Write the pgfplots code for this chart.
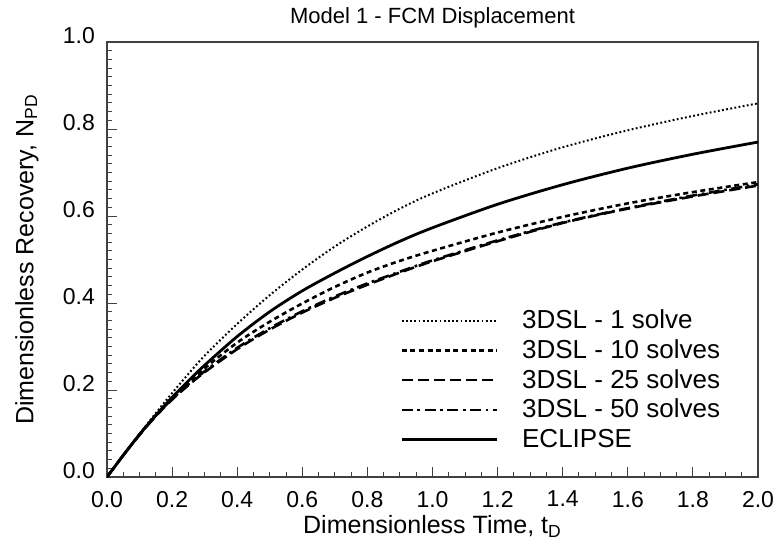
\documentclass[border=0pt]{standalone}
\usepackage{fontspec}
\setmainfont{Liberation Sans}
\usepackage{pgfplots}
\pgfplotsset{compat=1.18}
\begin{document}
\begin{tikzpicture}
\begin{axis}[
  name=ax,
  scale only axis,
  width=325.5pt, height=217.5pt,
  xmin=0, xmax=2, ymin=0, ymax=1,
  xtick={0,0.2,...,2.0}, ytick={0,0.2,...,1.0},
  minor x tick num=3, minor y tick num=9,
  tick align=inside,
  xtick pos=bottom, ytick pos=left,
  major tick length=5pt, minor tick length=2.5pt,
  axis line style={black!75, line width=0.6pt},
  every tick/.style={black!75, line width=0.5pt},
  tick label style={font=\fontsize{11.5}{13}\selectfont},
  /pgf/number format/assume math mode=true,
  /pgf/number format/fixed,
  /pgf/number format/fixed zerofill,
  /pgf/number format/precision=1,
  yticklabel style={xshift=-2.5pt, yshift=3pt},
  xticklabel style={yshift=-3.5pt},
  title={Model 1 - FCM Displacement},
  every axis title shift=0pt,
  title style={at={(axis description cs:0.5,1)}, anchor=base, yshift=9.5pt, font=\fontsize{11}{12}\selectfont},
  xlabel={Dimensionless Time, t\textsubscript{D}},
  ylabel={Dimensionless Recovery, N\textsubscript{PD}},
  xlabel style={at={(axis description cs:0.5,-0.13)}, anchor=base, font=\fontsize{12.5}{14}\selectfont},
  ylabel style={at={(axis description cs:-0.123,0.5)}, anchor=center, font=\fontsize{12.5}{14}\selectfont},
  legend cell align=left,
  legend style={draw=none, fill=none, inner sep=0pt,
    at={(axis cs:0.9,0.395)}, anchor=north west,
    font=\fontsize{13}{14}\selectfont, row sep=0pt,
    /tikz/every odd column/.append style={column sep=10pt}},
  legend image code/.code={\draw[#1] (0pt,0pt) -- (47.5pt,0pt);},
]
\addplot[black, line width=1pt, dash pattern=on 0.9pt off 1.2pt, smooth] coordinates {
(0,0) (0.05,0.05) (0.1,0.099) (0.15,0.147) (0.2,0.193) (0.25,0.237) (0.3,0.279)
(0.4,0.352) (0.5,0.418) (0.6,0.477) (0.7,0.53) (0.8,0.576) (0.9,0.617) (1.0,0.652)
(1.2,0.71) (1.4,0.758) (1.6,0.797) (1.8,0.83) (2.0,0.859)};
\addlegendentry{3DSL - 1 solve}
\addplot[black, line width=1.3pt, dash pattern=on 2.5pt off 1.8pt, smooth] coordinates {
(0,0) (0.05,0.05) (0.1,0.098) (0.15,0.142) (0.2,0.182) (0.25,0.217) (0.3,0.25)
(0.4,0.309) (0.5,0.357) (0.6,0.399) (0.7,0.437) (0.8,0.47) (0.9,0.497) (1.0,0.52)
(1.2,0.562) (1.4,0.598) (1.6,0.629) (1.8,0.655) (2.0,0.678)};
\addlegendentry{3DSL - 10 solves}
\addplot[black, line width=1.3pt, dash pattern=on 5.5pt off 2.5pt, smooth] coordinates {
(0,0) (0.05,0.05) (0.1,0.097) (0.15,0.14) (0.2,0.178) (0.25,0.211) (0.3,0.241)
(0.4,0.294) (0.5,0.339) (0.6,0.378) (0.7,0.412) (0.8,0.442) (0.9,0.47) (1.0,0.496)
(1.2,0.542) (1.4,0.584) (1.6,0.617) (1.8,0.645) (2.0,0.67)};
\addlegendentry{3DSL - 25 solves}
\addplot[black, line width=1.3pt, dash pattern=on 5.5pt off 2.3pt on 1.3pt off 2.3pt, smooth] coordinates {
(0,0) (0.05,0.05) (0.1,0.097) (0.15,0.141) (0.2,0.179) (0.25,0.213) (0.3,0.243)
(0.4,0.297) (0.5,0.342) (0.6,0.381) (0.7,0.415) (0.8,0.445) (0.9,0.472) (1.0,0.498)
(1.2,0.544) (1.4,0.585) (1.6,0.618) (1.8,0.647) (2.0,0.673)};
\addlegendentry{3DSL - 50 solves}
\addplot[black, line width=1.4pt, smooth] coordinates {
(0,0) (0.05,0.05) (0.1,0.098) (0.15,0.142) (0.2,0.183) (0.25,0.221) (0.3,0.257)
(0.4,0.323) (0.5,0.38) (0.6,0.428) (0.7,0.469) (0.8,0.507) (0.9,0.542) (1.0,0.573)
(1.2,0.627) (1.4,0.672) (1.6,0.71) (1.8,0.742) (2.0,0.77)};
\addlegendentry{ECLIPSE}
\end{axis}
\pgfresetboundingbox
\path ([shift={(-53.5pt,-35.5pt)}]ax.south west) rectangle ([shift={(11pt,21pt)}]ax.north east);
\end{tikzpicture}
\end{document}
